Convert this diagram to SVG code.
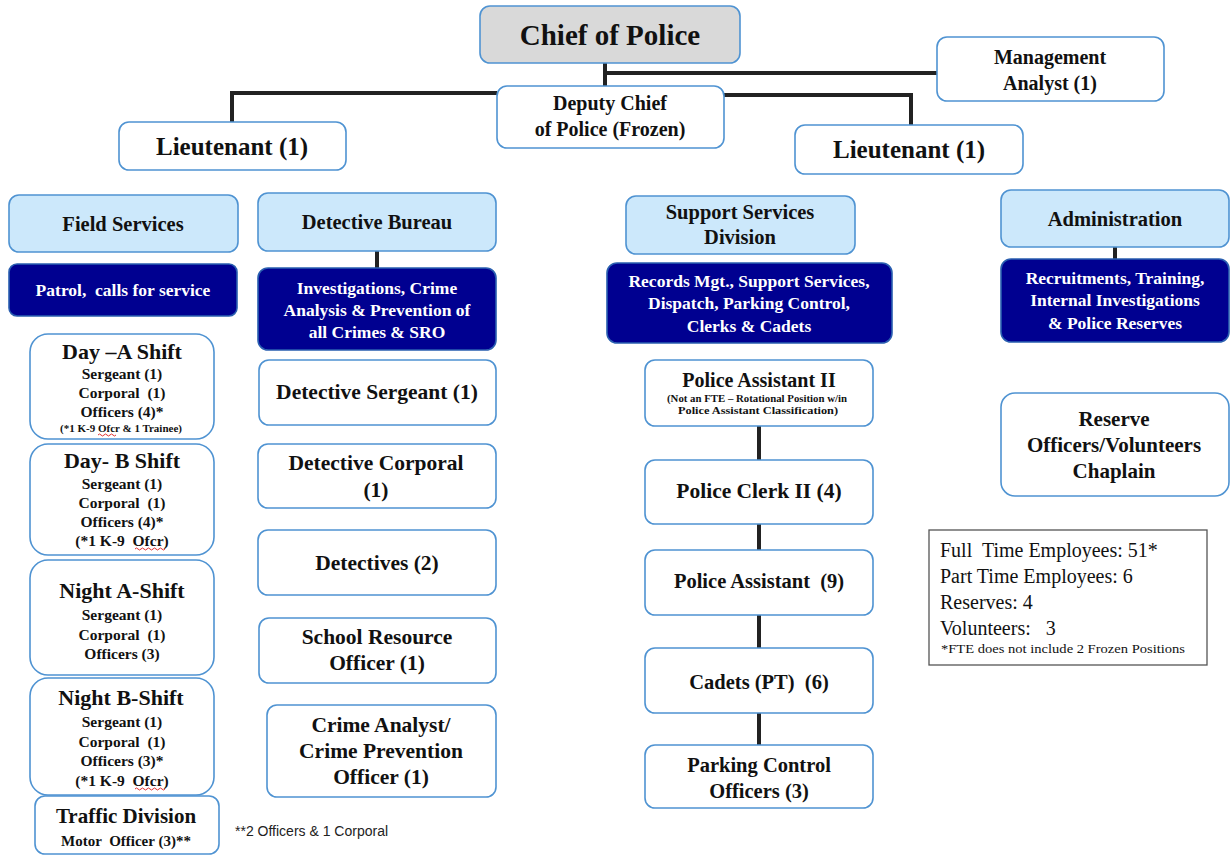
<svg xmlns="http://www.w3.org/2000/svg" width="1231" height="857" viewBox="0 0 1231 857">
<style>
text{white-space:pre}
.box{fill:#fff;stroke:#4f93d2;stroke-width:1.6}
.hdr{fill:#cce8fb;stroke:#4f93d2;stroke-width:1.6}
.navy{fill:#000090;stroke:#2a5fb0;stroke-width:1.6}
.chief{fill:#d9d9d9;stroke:#4f93d2;stroke-width:1.6}
.t{font-family:"Liberation Serif","Times New Roman",serif;font-weight:bold;fill:#111;text-anchor:middle}
.w{font-family:"Liberation Serif","Times New Roman",serif;font-weight:bold;fill:#fff;text-anchor:middle}
.r{font-family:"Liberation Serif","Times New Roman",serif;fill:#111}
.a{font-family:"Liberation Sans",Arial,sans-serif;fill:#222}
.ln{stroke:#222;stroke-width:4;fill:none}
.sq{stroke:#e03030;stroke-width:1;fill:none}
</style>
<rect width="1231" height="857" fill="#fff"/>
<g id="connectors">
<path class="ln" d="M605 63V86"/>
<path class="ln" d="M605 73H937"/>
<path class="ln" d="M232 122V93H497"/>
<path class="ln" d="M724 95H911V125"/>
<path class="ln" d="M377 251V268"/>
<path class="ln" d="M1115 247V259"/>
<path class="ln" d="M759 426V460"/>
<path class="ln" d="M759 524V550"/>
<path class="ln" d="M759 615V648"/>
<path class="ln" d="M759 713V745"/>
</g>
<g id="chief"><rect class="chief" x="480" y="6" width="260" height="57" rx="10"/><text class="t" x="610" y="45" font-size="29">Chief of Police</text></g>
<g id="mgmt"><rect class="box" x="937" y="37" width="227" height="64" rx="10"/><text class="t" x="1050" y="64" font-size="20">Management</text><text class="t" x="1050" y="90" font-size="20">Analyst (1)</text></g>
<g id="deputy"><rect class="box" x="497" y="86" width="227" height="62" rx="10"/><text class="t" x="610" y="110" font-size="20">Deputy Chief</text><text class="t" x="610" y="136" font-size="20">of Police (Frozen)</text></g>
<g id="lt-left"><rect class="box" x="119" y="122" width="227" height="48" rx="10"/><text class="t" x="232" y="155" font-size="25">Lieutenant (1)</text></g>
<g id="lt-right"><rect class="box" x="795" y="125" width="228" height="49" rx="10"/><text class="t" x="909" y="158" font-size="25">Lieutenant (1)</text></g>

<g id="field"><rect class="hdr" x="9" y="195" width="229" height="57" rx="10"/><text class="t" x="123" y="231" font-size="20.5">Field Services</text></g>
<g id="patrol"><rect class="navy" x="9" y="264" width="228" height="52" rx="8"/><text class="w" x="123" y="296" font-size="17.5">Patrol,  calls for service</text></g>
<g id="day-a"><rect class="box" x="30" y="334" width="184" height="105" rx="18"/>
<text class="t" x="122" y="359" font-size="22">Day –A Shift</text>
<text class="t" x="122" y="379" font-size="15.5">Sergeant (1)</text>
<text class="t" x="122" y="398" font-size="15.5">Corporal  (1)</text>
<text class="t" x="122" y="417" font-size="15.5">Officers (4)*</text>
<text class="t" x="121" y="432" font-size="11">(*1 K-9 Ofcr &amp; 1 Trainee)</text>
<path class="sq" d="M98 435q1.5-2 3 0t3 0t3 0t3 0t3 0t3 0"/></g>
<g id="day-b"><rect class="box" x="30" y="444" width="184" height="111" rx="18"/>
<text class="t" x="122" y="468" font-size="22">Day- B Shift</text>
<text class="t" x="122" y="489" font-size="15.5">Sergeant (1)</text>
<text class="t" x="122" y="508" font-size="15.5">Corporal  (1)</text>
<text class="t" x="122" y="527" font-size="15.5">Officers (4)*</text>
<text class="t" x="122" y="546" font-size="15.5">(*1 K-9  Ofcr)</text>
<path class="sq" d="M135 549q1.5-2 3 0t3 0t3 0t3 0t3 0t3 0t3 0t3 0t3 0t3 0"/></g>
<g id="night-a"><rect class="box" x="30" y="560" width="184" height="115" rx="18"/>
<text class="t" x="122" y="598" font-size="22">Night A-Shift</text>
<text class="t" x="122" y="620" font-size="15.5">Sergeant (1)</text>
<text class="t" x="122" y="640" font-size="15.5">Corporal  (1)</text>
<text class="t" x="122" y="659" font-size="15.5">Officers (3)</text></g>
<g id="night-b"><rect class="box" x="30" y="678" width="184" height="117" rx="18"/>
<text class="t" x="121" y="705" font-size="22">Night B-Shift</text>
<text class="t" x="122" y="727" font-size="15.5">Sergeant (1)</text>
<text class="t" x="122" y="747" font-size="15.5">Corporal  (1)</text>
<text class="t" x="122" y="766" font-size="15.5">Officers (3)*</text>
<text class="t" x="122" y="786" font-size="15.5">(*1 K-9  Ofcr)</text>
<path class="sq" d="M135 789q1.5-2 3 0t3 0t3 0t3 0t3 0t3 0t3 0t3 0t3 0t3 0"/></g>
<g id="traffic"><rect class="box" x="35" y="796" width="184" height="58" rx="10"/>
<text class="t" x="126" y="823" font-size="21">Traffic Division</text>
<text class="t" x="126" y="846" font-size="15">Motor  Officer (3)**</text></g>
<text class="a" x="235" y="836" font-size="14">**2 Officers &amp; 1 Corporal</text>

<g id="detective"><rect class="hdr" x="258" y="193" width="238" height="58" rx="10"/><text class="t" x="377" y="229" font-size="20.5">Detective Bureau</text></g>
<g id="investigations"><rect class="navy" x="258" y="268" width="238" height="82" rx="10"/>
<text class="w" x="377" y="294" font-size="17.5">Investigations, Crime</text>
<text class="w" x="377" y="316" font-size="17.5">Analysis &amp; Prevention of</text>
<text class="w" x="377" y="338" font-size="17.5">all Crimes &amp; SRO</text></g>
<g id="det-sgt"><rect class="box" x="259" y="360" width="237" height="65" rx="10"/><text class="t" x="377" y="399" font-size="21.5">Detective Sergeant (1)</text></g>
<g id="det-cpl"><rect class="box" x="258" y="444" width="238" height="64" rx="10"/><text class="t" x="376" y="470" font-size="21.5">Detective Corporal</text><text class="t" x="376" y="497" font-size="21.5">(1)</text></g>
<g id="detectives"><rect class="box" x="258" y="530" width="238" height="65" rx="10"/><text class="t" x="377" y="570" font-size="21.5">Detectives (2)</text></g>
<g id="sro"><rect class="box" x="259" y="618" width="237" height="65" rx="10"/><text class="t" x="377" y="644" font-size="21.5">School Resource</text><text class="t" x="377" y="670" font-size="21.5">Officer (1)</text></g>
<g id="crime-analyst"><rect class="box" x="267" y="705" width="229" height="92" rx="10"/>
<text class="t" x="381" y="732" font-size="21.5">Crime Analyst/</text>
<text class="t" x="381" y="758" font-size="21.5">Crime Prevention</text>
<text class="t" x="381" y="784" font-size="21.5">Officer (1)</text></g>

<g id="support"><rect class="hdr" x="626" y="196" width="229" height="58" rx="10"/><text class="t" x="740" y="219" font-size="20.5">Support Services</text><text class="t" x="740" y="244" font-size="20.5">Division</text></g>
<g id="records"><rect class="navy" x="607" y="263" width="285" height="80" rx="10"/>
<text class="w" x="749" y="287" font-size="17.5">Records Mgt., Support Services,</text>
<text class="w" x="749" y="309" font-size="17.5">Dispatch, Parking Control,</text>
<text class="w" x="749" y="332" font-size="17.5">Clerks &amp; Cadets</text></g>
<g id="pa2"><rect class="box" x="645" y="360" width="228" height="66" rx="10"/>
<text class="t" x="759" y="387" font-size="20">Police Assistant II</text>
<text class="t" x="757" y="402" font-size="9.5" textLength="180" lengthAdjust="spacingAndGlyphs">(Not an FTE – Rotational Position w/in</text>
<text class="t" x="758" y="414" font-size="9.5" textLength="160" lengthAdjust="spacingAndGlyphs">Police Assistant Classification)</text></g>
<g id="clerk"><rect class="box" x="645" y="460" width="228" height="64" rx="10"/><text class="t" x="759" y="498" font-size="21.5">Police Clerk II (4)</text></g>
<g id="pa"><rect class="box" x="645" y="550" width="228" height="65" rx="10"/><text class="t" x="759" y="588" font-size="20.5">Police Assistant  (9)</text></g>
<g id="cadets"><rect class="box" x="645" y="648" width="228" height="65" rx="10"/><text class="t" x="759" y="689" font-size="20.5">Cadets (PT)  (6)</text></g>
<g id="parking"><rect class="box" x="645" y="745" width="228" height="63" rx="10"/><text class="t" x="759" y="772" font-size="20.5">Parking Control</text><text class="t" x="759" y="798" font-size="20.5">Officers (3)</text></g>

<g id="admin"><rect class="hdr" x="1001" y="190" width="228" height="57" rx="10"/><text class="t" x="1115" y="226" font-size="20.5">Administration</text></g>
<g id="recruit"><rect class="navy" x="1001" y="259" width="228" height="83" rx="10"/>
<text class="w" x="1115" y="284" font-size="17.5">Recruitments, Training,</text>
<text class="w" x="1115" y="306" font-size="17.5">Internal Investigations</text>
<text class="w" x="1115" y="329" font-size="17.5">&amp; Police Reserves</text></g>
<g id="reserve"><rect class="box" x="1001" y="393" width="228" height="103" rx="14"/>
<text class="t" x="1114" y="426" font-size="21">Reserve</text>
<text class="t" x="1114" y="452" font-size="21">Officers/Volunteers</text>
<text class="t" x="1114" y="478" font-size="21">Chaplain</text></g>
<g id="totals"><rect x="929" y="530" width="278" height="135" fill="#fff" stroke="#555" stroke-width="1.3"/>
<text class="r" x="940" y="557" font-size="20">Full  Time Employees: 51*</text>
<text class="r" x="940" y="583" font-size="20">Part Time Employees: 6</text>
<text class="r" x="940" y="609" font-size="20">Reserves: 4</text>
<text class="r" x="940" y="635" font-size="20">Volunteers:   3</text>
<text class="r" x="941" y="653" font-size="13" textLength="244" lengthAdjust="spacingAndGlyphs">*FTE does not include 2 Frozen Positions</text></g>
</svg>
